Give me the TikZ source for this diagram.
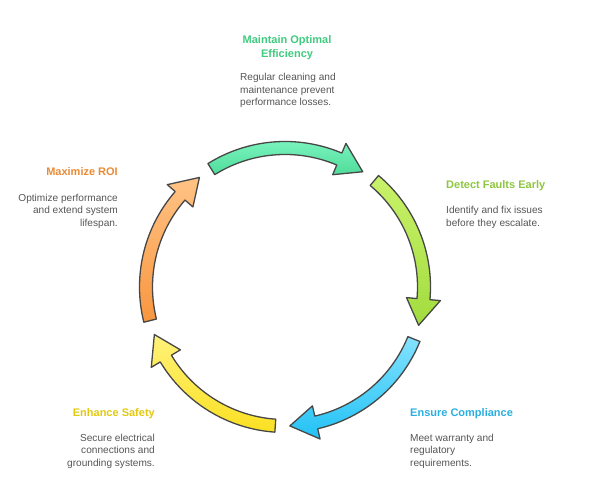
\documentclass[tikz,border=0pt]{standalone}
\usepackage{fontspec}
\setmainfont{Liberation Sans}
\usepackage{xcolor}
\usetikzlibrary{positioning}
\definecolor{ttlgreen}{HTML}{3FCB7F}
\definecolor{ttllime}{HTML}{8DC63F}
\definecolor{ttlblue}{HTML}{2AAEE0}
\definecolor{ttlyellow}{HTML}{E2C90F}
\definecolor{ttlorange}{HTML}{E98A35}
\definecolor{desctext}{HTML}{555555}
\definecolor{ringline}{HTML}{474747}
\definecolor{gtop}{HTML}{82F7C4}\definecolor{gbot}{HTML}{4FDC9A}
\definecolor{ltop}{HTML}{C9F26A}\definecolor{lbot}{HTML}{A2DC3E}
\definecolor{btop}{HTML}{84E2FF}\definecolor{bbot}{HTML}{22C2F5}
\definecolor{ytop}{HTML}{FFF27A}\definecolor{ybot}{HTML}{FBE022}
\definecolor{otop}{HTML}{FFC385}\definecolor{obot}{HTML}{F9963F}
% curved arrow of the cycle: start angle, top colour, bottom colour
\newcommand{\cyclearrow}[3]{%
  \pgfmathsetmacro{\arrhead}{#1-55}%
  \pgfmathsetmacro{\arrtip}{#1-66}%
  \draw[ring,top color=#2,bottom color=#3] (#1:145.5pt) arc[start angle=#1,end angle=\arrhead,radius=145.5pt]
    -- (\arrhead:156pt) -- (\arrtip:139pt) -- (\arrhead:122pt) -- (\arrhead:132.5pt)
    arc[start angle=\arrhead,end angle=#1,radius=132.5pt] -- cycle;}

\begin{document}
\begin{tikzpicture}[x=1pt,y=1pt,
  ring/.style={draw=ringline,line width=1.3pt,line join=round},
  ttl/.style={inner sep=0pt,font=\bfseries\fontsize{11}{14}\selectfont},
  desc/.style={inner sep=0pt,text=desctext,font=\fontsize{10.1}{12.5}\selectfont}]
  \useasboundingbox (0,0) rectangle (592,502);
  \begin{scope}[shift={(285,215)}]
    \cyclearrow{122}{gtop}{gbot}
    \cyclearrow{50}{ltop}{lbot}
    \cyclearrow{-22}{btop}{bbot}
    \cyclearrow{-94}{ytop}{ybot}
    \cyclearrow{-166}{otop}{obot}
  \end{scope}

  \node[ttl,text=ttlgreen,align=center] (efftitle) at (287,454) {Maintain Optimal\\Efficiency};
  \node[desc,align=left,anchor=west] (effdesc) at (240,411.5) {Regular cleaning and\\maintenance prevent\\performance losses.};
  \node[ttl,text=ttllime,anchor=west] (faulttitle) at (446,316) {Detect Faults Early};
  \node[desc,align=left,anchor=west] (faultdesc) at (446,284.5) {Identify and fix issues\\before they escalate.};
  \node[ttl,text=ttlblue,anchor=west] (comptitle) at (410,88) {Ensure Compliance};
  \node[desc,align=left,anchor=west] (compdesc) at (410,51) {Meet warranty and\\regulatory\\requirements.};
  \node[ttl,text=ttlyellow,anchor=east] (safetitle) at (155,88) {Enhance Safety};
  \node[desc,align=right,anchor=east] (safedesc) at (155,51) {Secure electrical\\connections and\\grounding systems.};
  \node[ttl,text=ttlorange,anchor=east] (roititle) at (118,330) {Maximize ROI};
  \node[desc,align=right,anchor=east] (roidesc) at (118,291) {Optimize performance\\and extend system\\lifespan.};
\end{tikzpicture}
\end{document}
